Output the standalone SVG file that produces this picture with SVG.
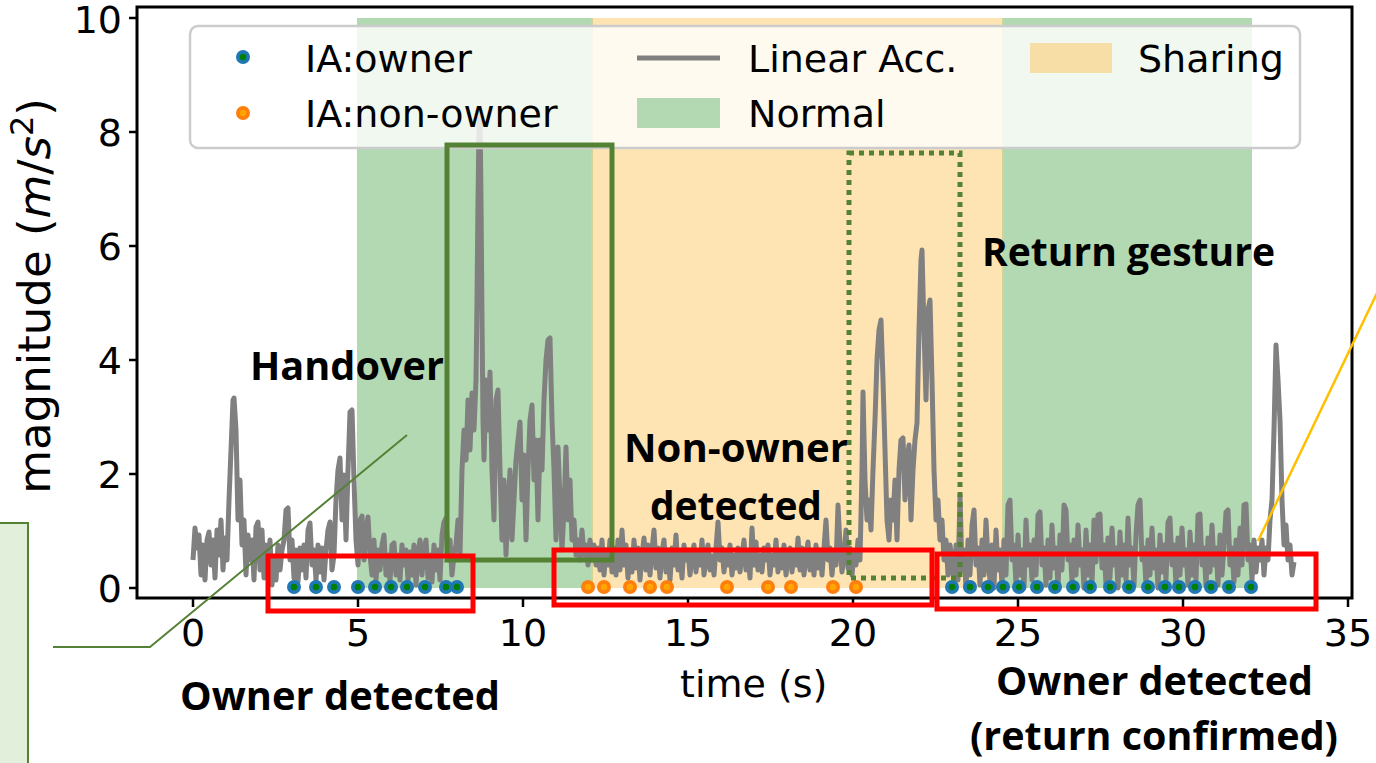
<svg xmlns="http://www.w3.org/2000/svg" width="1376" height="763" viewBox="0 0 1376 763">
<style>
.tick{font-family:"DejaVu Sans",sans-serif;font-size:38px;fill:#000}
.lab{font-family:"DejaVu Sans",sans-serif;font-size:38px;fill:#000}
.ylab{font-family:"DejaVu Sans",sans-serif;font-size:45px;fill:#000}
.ann{font-family:"Open Sans","Liberation Sans",sans-serif;font-weight:700;font-size:40px;fill:#000}
.spine{stroke:#000;stroke-width:3;fill:none}
.tk{stroke:#000;stroke-width:2.5}
.red{fill:none;stroke:#ff0000;stroke-width:5}
.gbox{fill:none;stroke:#548235;stroke-width:5}
.own{fill:#1f77b4}
.ownc{fill:#008000}
.non{fill:#ff7f0e}
.nonc{fill:#ffa500}
</style>
<defs>
<g id="od"><circle r="7" class="own"/><circle r="3.2" class="ownc"/></g>
<g id="nd"><circle r="7" class="non"/><circle r="3.2" class="nonc"/></g>
</defs>
<rect width="1376" height="763" fill="#fff"/>
<g id="spans">
<rect x="357" y="18" width="235" height="570" fill="#b3d9b3"/>
<rect x="592" y="18" width="411" height="570" fill="#ffe4b3"/>
<rect x="1003" y="18" width="249" height="570" fill="#b3d9b3"/>
<line x1="592" y1="18" x2="592" y2="588" stroke="#d3d393" stroke-width="2"/>
<line x1="1003" y1="18" x2="1003" y2="588" stroke="#d3d393" stroke-width="2"/>
</g>
<g id="signal">
<polyline fill="none" stroke="#808080" stroke-width="5" stroke-linejoin="round" points="193,560 195,528 197,548 199,535 201,575 203,545 205,580 207,540 209,532 211,565 213,540 215,578 217,530 219,555 221,520 223,570 225,538 227,560 229,500 231,450 233,400 234,398 236,430 238,520 240,480 242,545 244,520 246,575 248,535 250,560 252,540 254,580 256,527 258,522 260,570 262,530 264,578 266,545 268,575 270,540 272,585 274,560 276,580 278,545 280,570 282,550 284,540 286,510 288,508 290,560 292,540 294,578 296,550 298,582 300,548 302,570 304,545 306,578 308,530 310,523 312,565 314,550 316,580 318,545 320,572 322,548 324,580 326,550 328,530 330,522 332,570 334,555 336,500 338,470 340,458 342,520 344,475 346,540 348,470 350,412 352,410 354,480 356,540 358,565 360,520 362,516 364,560 366,530 368,517 370,555 372,575 374,540 376,580 378,550 380,570 382,545 384,535 386,575 388,555 390,582 392,545 394,543 396,575 398,555 400,580 402,545 404,565 406,550 408,580 410,552 412,575 414,545 416,585 418,555 420,540 422,575 424,548 426,540 428,578 430,555 432,582 434,545 436,570 438,550 440,580 442,535 444,522 446,518 448,560 450,540 452,575 454,555 456,545 458,520 460,555 462,470 464,430 466,460 468,400 470,450 472,393 474,430 476,380 477,300 478,200 479,130 480,112 481,200 482,320 483,420 484,460 486,380 488,430 490,372 492,470 494,520 496,400 498,390 500,470 502,540 504,480 506,555 508,510 510,470 512,540 514,500 516,460 518,440 520,422 522,500 524,455 526,540 528,470 530,420 532,405 534,480 536,440 538,520 540,440 542,470 544,400 546,360 548,340 550,338 552,420 554,470 556,540 558,447 560,500 562,550 564,510 566,447 568,520 570,480 572,540 574,520 576,555 578,540 580,560 582,530 584,555 586,545 588,565 590,540 592,560 594,545 596,565 598,548 600,570 602,540 604,575 606,550 608,565 610,540 612,572 614,548 616,575 618,540 620,570 622,530 624,565 626,545 628,578 630,550 632,572 634,540 636,568 638,548 640,580 642,555 644,538 646,570 648,545 650,575 652,550 654,530 656,568 658,548 660,578 662,552 664,540 666,572 668,550 670,580 672,548 674,565 676,535 678,570 680,552 682,578 684,545 686,560 688,550 690,575 692,555 694,545 696,572 698,552 700,565 702,540 704,575 706,558 708,545 710,570 712,556 714,575 716,548 718,522 720,560 722,548 724,572 726,552 728,565 730,545 732,575 734,555 736,568 738,548 740,572 742,556 744,540 746,570 748,552 750,578 752,528 754,565 756,542 758,570 760,555 762,572 764,548 766,560 768,545 770,575 772,555 774,565 776,540 778,572 780,552 782,568 784,545 786,575 788,556 790,548 792,572 794,552 796,565 798,538 800,570 802,548 804,575 806,555 808,542 810,570 812,552 814,575 816,545 818,568 820,550 822,575 824,548 826,520 828,560 830,548 832,575 834,552 836,565 838,505 840,545 842,572 844,555 846,530 848,568 850,548 852,575 854,552 856,565 858,540 860,560 862,470 863,392 865,480 867,520 869,500 871,530 873,470 875,420 877,360 879,330 881,320 883,380 885,450 887,520 889,540 891,500 893,520 895,480 897,540 899,470 901,440 903,438 905,500 907,460 909,445 911,520 913,470 915,440 917,423 919,330 921,260 922,250 924,330 926,400 928,310 930,300 932,380 934,470 936,520 938,500 940,540 942,520 944,560 946,540 948,575 950,545 952,560 954,585 956,545 958,580 960,495 962,570 964,550 966,588 968,540 970,575 972,525 974,510 976,565 978,548 980,585 982,540 984,575 986,520 988,560 990,580 992,545 994,588 996,530 998,570 1000,550 1002,585 1004,540 1006,575 1008,505 1010,500 1012,560 1014,545 1016,585 1018,535 1020,575 1022,550 1024,588 1026,520 1028,565 1030,545 1032,580 1034,540 1036,575 1038,515 1040,512 1042,565 1044,548 1046,585 1048,540 1050,578 1052,525 1054,568 1056,548 1058,588 1060,535 1062,570 1064,505 1066,510 1068,560 1070,545 1072,582 1074,540 1076,575 1078,525 1080,565 1082,550 1084,588 1086,530 1088,575 1090,545 1092,585 1094,520 1096,562 1098,515 1100,514 1102,568 1104,545 1106,585 1108,538 1110,578 1112,528 1114,565 1116,548 1118,588 1120,532 1122,575 1124,545 1126,580 1128,518 1130,565 1132,548 1134,586 1136,535 1138,505 1140,500 1142,560 1144,548 1146,585 1148,540 1150,575 1152,528 1154,568 1156,550 1158,588 1160,535 1162,572 1164,545 1166,580 1168,522 1170,518 1172,565 1174,545 1176,586 1178,538 1180,575 1182,528 1184,565 1186,550 1188,585 1190,532 1192,575 1194,545 1196,580 1198,515 1200,514 1202,565 1204,548 1206,586 1208,538 1210,572 1212,525 1214,565 1216,548 1218,585 1220,535 1222,575 1224,545 1226,512 1228,510 1230,565 1232,548 1234,582 1236,540 1238,575 1240,528 1242,565 1244,505 1246,504 1248,560 1250,545 1252,580 1254,540 1256,572 1258,548 1260,560 1262,540 1264,575 1266,548 1268,560 1270,520 1272,500 1274,430 1276,345 1278,380 1280,420 1282,500 1284,545 1286,525 1288,560 1290,545 1292,575 1294,562"/>
</g>
<g id="dots">
<use href="#od" x="294" y="587"/><use href="#od" x="316" y="587"/><use href="#od" x="334" y="587"/><use href="#od" x="358" y="587"/><use href="#od" x="375" y="587"/><use href="#od" x="391" y="587"/><use href="#od" x="407" y="587"/><use href="#od" x="425" y="587"/><use href="#od" x="446" y="587"/><use href="#od" x="457" y="587"/>
<use href="#nd" x="588" y="587"/><use href="#nd" x="604" y="587"/><use href="#nd" x="630" y="587"/><use href="#nd" x="650" y="587"/><use href="#nd" x="667" y="587"/><use href="#nd" x="727" y="587"/><use href="#nd" x="768" y="587"/><use href="#nd" x="791" y="587"/><use href="#nd" x="833" y="587"/><use href="#nd" x="856" y="587"/>
<use href="#od" x="952" y="587"/><use href="#od" x="970" y="587"/><use href="#od" x="988" y="587"/><use href="#od" x="1003" y="587"/><use href="#od" x="1019" y="587"/><use href="#od" x="1037" y="587"/><use href="#od" x="1055" y="587"/><use href="#od" x="1073" y="587"/><use href="#od" x="1090" y="587"/><use href="#od" x="1110" y="587"/><use href="#od" x="1129" y="587"/><use href="#od" x="1148" y="587"/><use href="#od" x="1165" y="587"/><use href="#od" x="1179" y="587"/><use href="#od" x="1195" y="587"/><use href="#od" x="1211" y="587"/><use href="#od" x="1229" y="587"/><use href="#od" x="1251" y="587"/>
</g>
<g id="axes">
<rect x="137" y="7" width="1215" height="591" class="spine"/>
<g class="tk">
<line x1="129" y1="588" x2="137" y2="588"/><line x1="129" y1="474" x2="137" y2="474"/><line x1="129" y1="360" x2="137" y2="360"/><line x1="129" y1="246" x2="137" y2="246"/><line x1="129" y1="132" x2="137" y2="132"/><line x1="129" y1="18" x2="137" y2="18"/>
<line x1="193" y1="598" x2="193" y2="607"/><line x1="358" y1="598" x2="358" y2="607"/><line x1="523" y1="598" x2="523" y2="607"/><line x1="688" y1="598" x2="688" y2="607"/><line x1="853" y1="598" x2="853" y2="607"/><line x1="1018" y1="598" x2="1018" y2="607"/><line x1="1183" y1="598" x2="1183" y2="607"/><line x1="1348" y1="598" x2="1348" y2="607"/>
</g>
<g class="tick" text-anchor="end">
<text x="122" y="602">0</text><text x="122" y="488">2</text><text x="122" y="374">4</text><text x="122" y="260">6</text><text x="122" y="146">8</text><text x="122" y="33">10</text>
</g>
<g class="tick" text-anchor="middle">
<text x="193" y="646">0</text><text x="358" y="646">5</text><text x="523" y="646">10</text><text x="688" y="646">15</text><text x="853" y="646">20</text><text x="1018" y="646">25</text><text x="1183" y="646">30</text><text x="1348" y="646">35</text>
</g>
<text class="lab" x="680" y="697">time (s)</text>
<text class="ylab" transform="translate(50,296) rotate(-90)" text-anchor="middle">magnitude (<tspan font-style="italic">m</tspan>/<tspan font-style="italic">s</tspan><tspan dy="-17" style="font-size:32px">2</tspan><tspan dy="17">)</tspan></text>
</g>
<g id="legend">
<rect x="190" y="26" width="1110" height="122" rx="8" fill="#fff" fill-opacity="0.8" stroke="#cccccc" stroke-width="2.5"/>
<use href="#od" x="243" y="57"/>
<use href="#nd" x="243" y="113"/>
<line x1="637" y1="58" x2="720" y2="58" stroke="#808080" stroke-width="5"/>
<rect x="637" y="98" width="83" height="30" fill="#b3d9b3"/>
<rect x="1030" y="43" width="82" height="30" fill="#f6dea6"/>
<text class="lab" x="305" y="72">IA:owner</text>
<text class="lab" x="305" y="127">IA:non-owner</text>
<text class="lab" x="748" y="72">Linear Acc.</text>
<text class="lab" x="748" y="127">Normal</text>
<text class="lab" x="1138" y="72">Sharing</text>
</g>
<g id="handover-box"><rect x="447" y="145" width="165" height="415" class="gbox"/></g>
<g id="return-box"><rect x="849" y="153" width="111" height="425" class="gbox" stroke-dasharray="5 5"/></g>
<g id="red-box-1"><rect x="268" y="556" width="205" height="55" class="red"/></g>
<g id="red-box-2"><rect x="554" y="550" width="378" height="55" class="red"/></g>
<g id="red-box-3"><rect x="937" y="554" width="379" height="55" class="red"/></g>
<g id="side-box"><rect x="-3" y="523" width="31" height="242" fill="#e2efda" stroke="#548235" stroke-width="2"/></g>
<g id="connectors">
<polyline points="53,647 150,647 407,435" fill="none" stroke="#548235" stroke-width="2"/>
<line x1="1258" y1="541" x2="1378" y2="291" stroke="#ffc000" stroke-width="2.5"/>
</g>
<g id="labels">
<text class="ann" x="250" y="380" textLength="194" lengthAdjust="spacingAndGlyphs">Handover</text>
<text class="ann" x="982" y="266" textLength="293" lengthAdjust="spacingAndGlyphs">Return gesture</text>
<text class="ann" x="624" y="462" textLength="224" lengthAdjust="spacingAndGlyphs">Non-owner</text>
<text class="ann" x="650" y="520" textLength="172" lengthAdjust="spacingAndGlyphs">detected</text>
<text class="ann" x="180" y="710" textLength="320" lengthAdjust="spacingAndGlyphs">Owner detected</text>
<text class="ann" x="996" y="695" textLength="317" lengthAdjust="spacingAndGlyphs">Owner detected</text>
<text class="ann" x="970" y="750" textLength="368" lengthAdjust="spacingAndGlyphs">(return confirmed)</text>
</g>
</svg>
